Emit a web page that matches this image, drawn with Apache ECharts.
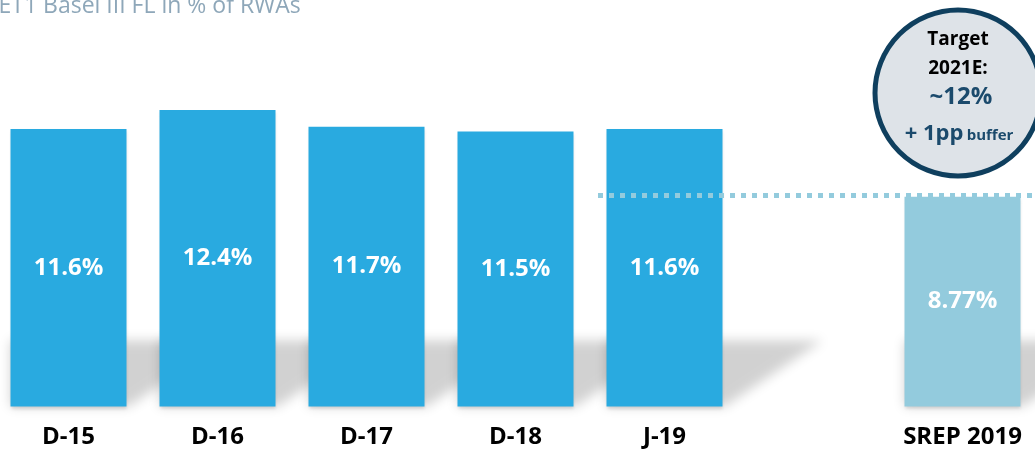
<!DOCTYPE html>
<html>
<head>
<meta charset="utf-8">
<script src="https://cdn.jsdelivr.net/npm/echarts@6/dist/echarts.min.js"></script>
<style>
html,body{margin:0;padding:0;background:#fff;}
#chart{width:1035px;height:455px;}
</style>
</head>
<body>
<div id="chart"></div>
<script>
const categories = ['D-15', 'D-16', 'D-17', 'D-18', 'J-19', '', 'SREP 2019'];
const values = [11.6, 12.4, 11.7, 11.5, 11.6, null, 8.77];
const labels = ['11.6%', '12.4%', '11.7%', '11.5%', '11.6%', '', '8.77%'];
const srepLevel = 8.82;
const titleText = 'CET1 Basel III FL in % of RWAs';
const targetLines = ['Target', '2021E:', '~12%', '+ 1pp', 'buffer'];

const FONT = '"Open Sans", "Liberation Sans", sans-serif';
const BLUE = '#29aae0';
const LIGHT = '#93cbdd';

const chart = echarts.init(document.getElementById('chart'), null, {renderer: 'canvas'});

const barData = values.map((v, i) => {
  if (v == null) return null;
  const item = {value: v, label: {formatter: labels[i]}};
  if (i === values.length - 1) item.itemStyle = {color: LIGHT};
  return item;
});

const shadowData = values.map((v, i) => v == null ? null : [i, v]);
const OFF = 3000;

const option = {
  animation: false,
  backgroundColor: '#fff',
  grid: {left: -6, right: -2, top: 0, bottom: 48.5, containLabel: false, outerBoundsMode: 'none'},
  xAxis: {
    type: 'category',
    data: categories,
    axisLine: {show: false},
    axisTick: {show: false},
    axisLabel: {
      color: '#000', fontFamily: FONT, fontWeight: 'bold', fontSize: 24, margin: 19, interval: 0
    }
  },
  yAxis: {
    type: 'value', min: 0, max: 17,
    show: false, splitLine: {show: false}
  },
  series: [
    {
      type: 'custom',
      z: 1,
      silent: true,
      clip: false,
      data: shadowData.filter(d => d),
      renderItem: function (params, api) {
        const base = api.coord([api.value(0), 0]);
        const w = 116;
        const l = base[0] - w / 2, r = base[0] + w / 2, y0 = base[1];
        const h = 66, reach = 100;
        const pts = [[l, y0 - h], [r + reach, y0 - h], [r + 2, y0], [l, y0]]
          .map(p => [p[0] - OFF, p[1]]);
        return {
          type: 'polygon',
          shape: {points: pts},
          style: {
            fill: '#000',
            shadowColor: 'rgba(0,0,0,0.18)',
            shadowBlur: 12,
            shadowOffsetX: OFF,
            shadowOffsetY: 0
          }
        };
      }
    },
    {
      type: 'bar',
      z: 2,
      data: barData,
      barWidth: 116,
      itemStyle: {color: BLUE, shadowColor: 'rgba(0,0,0,0.12)', shadowBlur: 3, shadowOffsetY: 2},
      label: {
        show: true,
        position: 'inside',
        color: '#fff',
        fontFamily: FONT,
        fontWeight: 'bold',
        fontSize: 24
      },
      markLine: {
        silent: true,
        symbol: 'none',
        label: {show: false},
        lineStyle: {color: LIGHT, width: 5, type: [5, 6], cap: 'butt', opacity: 1},
        data: [[{x: 598, yAxis: srepLevel}, {x: 1040, yAxis: srepLevel}]],
        z: 3
      }
    }
  ],
  graphic: [
    {
      type: 'text', left: -16, top: -5, z: 10,
      style: {text: titleText, fill: '#8ea7b9', font: '23px ' + FONT}
    },
    {
      type: 'circle', z: 10,
      shape: {cx: 958, cy: 93, r: 83},
      style: {fill: '#dee3e8', stroke: '#0f3f5e', lineWidth: 5}
    },
    {
      type: 'text', z: 11, x: 958, y: 40,
      style: {text: targetLines[0], fill: '#000', font: 'bold 19px ' + FONT, align: 'center', verticalAlign: 'middle'}
    },
    {
      type: 'text', z: 11, x: 958, y: 69,
      style: {text: targetLines[1], fill: '#000', font: 'bold 19px ' + FONT, align: 'center', verticalAlign: 'middle'}
    },
    {
      type: 'text', z: 11, x: 961, y: 97,
      style: {text: targetLines[2], fill: '#1b4a6c', font: 'bold 24px ' + FONT, align: 'center', verticalAlign: 'middle'}
    },
    {
      type: 'text', z: 11, x: 959, y: 131,
      style: {
        text: '{a|' + targetLines[3] + '} {b|' + targetLines[4] + '}',
        align: 'center', verticalAlign: 'middle',
        rich: {
          a: {fill: '#1b4a6c', fontSize: 22, fontWeight: 'bold', fontFamily: FONT, lineHeight: 28, verticalAlign: 'bottom'},
          b: {fill: '#1b4a6c', fontSize: 15, fontWeight: 'bold', fontFamily: FONT, lineHeight: 28, verticalAlign: 'bottom', padding: [0, 0, 2, 0]}
        }
      }
    }
  ]
};

chart.setOption(option);
</script>
</body>
</html>
